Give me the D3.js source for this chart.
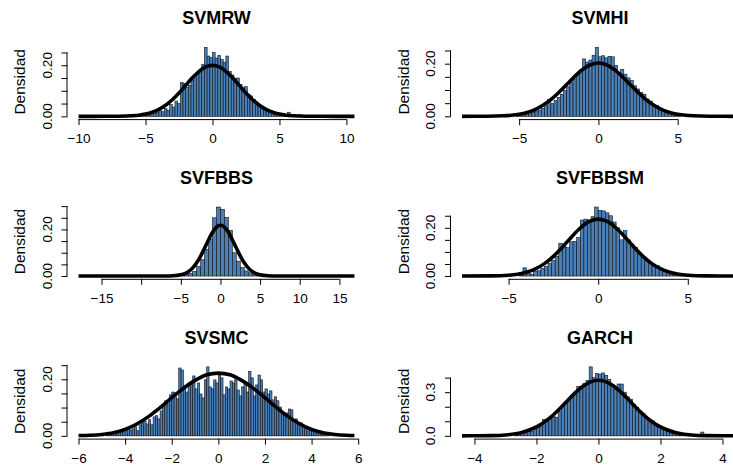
<!DOCTYPE html>
<html>
<head>
<meta charset="utf-8">
<script src="https://cdn.jsdelivr.net/npm/d3@7"></script>
<style>
  body { margin: 0; background: #fff; }
  svg { display: block; }
  text { font-family: "Liberation Sans", Arial, Helvetica, sans-serif; fill: #000; }
</style>
</head>
<body>
<svg id="chart" width="733" height="468"></svg>
<script>
// ---- data -------------------------------------------------------------
const titles = ["SVMRW", "SVMHI", "SVFBBS", "SVFBBSM", "SVSMC", "GARCH"];
const yLabel = "Densidad";

// observed range of each series (span of the density line)
const xRanges = [[-10, 10.6], [-8.6, 8.8], [-17.9, 16.9], [-7.6, 7.8], [-6, 5.84], [-4.4, 4.5]];

// histogram bins: left edge of first bin and bin width
const binStarts = [-7.0, -5.2, -5.0, -4.4, -5.0, -2.7];
const binWidths = [0.2, 0.2, 0.5, 0.2, 0.1, 0.1];

// bin densities
const densSVMRW = [0.000, 0.002, 0.000, 0.002, 0.008, 0.002, 0.002, 0.004, 0.004, 0.006,
  0.004, 0.008, 0.010, 0.012, 0.016, 0.022, 0.018, 0.030, 0.024, 0.046,
  0.036, 0.060, 0.050, 0.132, 0.128, 0.114, 0.122, 0.140, 0.150, 0.163,
  0.180, 0.204, 0.270, 0.236, 0.230, 0.250, 0.228, 0.238, 0.222, 0.212,
  0.236, 0.176, 0.162, 0.146, 0.150, 0.124, 0.112, 0.116, 0.086, 0.080,
  0.066, 0.056, 0.046, 0.040, 0.030, 0.026, 0.020, 0.014, 0.012, 0.008,
  0.006, 0.004, 0.002, 0.016, 0.002, 0.000, 0.000, 0.006];
const densSVMHI = [0.002, 0.004, 0.006, 0.008, 0.010, 0.014, 0.020, 0.024, 0.030, 0.040,
  0.064, 0.048, 0.060, 0.072, 0.084, 0.098, 0.112, 0.128, 0.142, 0.160,
  0.176, 0.218, 0.206, 0.214, 0.232, 0.262, 0.226, 0.230, 0.222, 0.228,
  0.226, 0.194, 0.166, 0.178, 0.160, 0.146, 0.136, 0.116, 0.104, 0.090,
  0.084, 0.066, 0.058, 0.044, 0.042, 0.030, 0.022, 0.016, 0.010, 0.006,
  0.004, 0.002];
const densSVFBBS = [0.002, 0.006, 0.012, 0.020, 0.042, 0.070, 0.115, 0.158, 0.250, 0.296,
  0.286, 0.252, 0.196, 0.100, 0.064, 0.036, 0.022, 0.014, 0.008, 0.004,
  0.002];
const densSVFBBSM = [0.004, 0.034, 0.010, 0.008, 0.020, 0.022, 0.032, 0.040, 0.052, 0.064,
  0.082, 0.136, 0.124, 0.118, 0.142, 0.144, 0.160, 0.232, 0.236, 0.232,
  0.246, 0.286, 0.272, 0.270, 0.262, 0.250, 0.224, 0.200, 0.150, 0.188,
  0.150, 0.132, 0.118, 0.092, 0.082, 0.066, 0.054, 0.040, 0.044, 0.026,
  0.022, 0.014, 0.010, 0.006, 0.004, 0.002, 0.002, 0.004];
const densSVSMC = [0.004, 0.000, 0.004, 0.007, 0.004, 0.011, 0.007, 0.011, 0.014, 0.025,
  0.018, 0.028, 0.021, 0.025, 0.032, 0.018, 0.039, 0.046, 0.053, 0.042,
  0.057, 0.039, 0.067, 0.071, 0.060, 0.088, 0.106, 0.124, 0.113, 0.145,
  0.155, 0.152, 0.131, 0.240, 0.233, 0.177, 0.155, 0.180, 0.191, 0.212,
  0.166, 0.187, 0.148, 0.134, 0.198, 0.244, 0.173, 0.166, 0.198, 0.187,
  0.215, 0.205, 0.145, 0.173, 0.166, 0.194, 0.187, 0.198, 0.162, 0.141,
  0.173, 0.184, 0.155, 0.228, 0.205, 0.141, 0.180, 0.215, 0.198, 0.155,
  0.166, 0.148, 0.159, 0.127, 0.138, 0.124, 0.102, 0.085, 0.074, 0.081,
  0.095, 0.092, 0.053, 0.060, 0.039, 0.046, 0.032, 0.028, 0.025, 0.018,
  0.021, 0.014, 0.011, 0.014, 0.007, 0.007, 0.004, 0.004, 0.000, 0.004];
const densGARCH = [0.006, 0.010, 0.016, 0.028, 0.040, 0.030, 0.044, 0.056, 0.068, 0.112,
  0.104, 0.120, 0.136, 0.128, 0.168, 0.200, 0.232, 0.248, 0.276, 0.300,
  0.340, 0.328, 0.360, 0.380, 0.474, 0.400, 0.428, 0.424, 0.432, 0.416,
  0.388, 0.352, 0.320, 0.356, 0.356, 0.300, 0.268, 0.252, 0.216, 0.196,
  0.164, 0.156, 0.120, 0.096, 0.104, 0.076, 0.056, 0.048, 0.036, 0.030,
  0.020, 0.014, 0.010, 0.006, 0.004, 0.002, 0.002, 0.000, 0.002, 0.000,
  0.026, 0.004, 0.000, 0.010, 0.002];

// fitted density line, [x, density] points
const curveSVMRW = [[-10, 0], [-8, 0.0001], [-7, 0.0004], [-6, 0.0022], [-5.5, 0.0045], [-5, 0.0088],
  [-4.5, 0.0159], [-4, 0.0270], [-3.5, 0.0432], [-3, 0.0648], [-2.5, 0.0913], [-2, 0.1210],
  [-1.5, 0.1506], [-1, 0.1760], [-0.5, 0.1934], [0, 0.1995], [0.5, 0.1934], [1, 0.1760],
  [1.5, 0.1506], [2, 0.1210], [2.5, 0.0913], [3, 0.0648], [3.5, 0.0432], [4, 0.0270],
  [4.5, 0.0159], [5, 0.0088], [5.5, 0.0045], [6, 0.0022], [7, 0.0004], [8, 0.0001], [10.6, 0]];
const curveSVMHI = [[-8.6, 0], [-7, 0.0004], [-6, 0.0020], [-5.5, 0.0041], [-5, 0.0081],
  [-4.5, 0.0149], [-4, 0.0258], [-3.5, 0.0418], [-3, 0.0635], [-2.5, 0.0905], [-2, 0.1209],
  [-1.5, 0.1515], [-1, 0.1780], [-0.5, 0.1961], [0, 0.2025], [0.5, 0.1961], [1, 0.1780],
  [1.5, 0.1515], [2, 0.1209], [2.5, 0.0905], [3, 0.0635], [3.5, 0.0418], [4, 0.0258],
  [4.5, 0.0149], [5, 0.0081], [5.5, 0.0041], [6, 0.0020], [7, 0.0004], [8.8, 0]];
const curveSVFBBS = [[-17.9, 0], [-8, 0], [-7, 0.0001], [-6, 0.0010], [-5, 0.0052], [-4.5, 0.0106],
  [-4, 0.0200], [-3.5, 0.0350], [-3, 0.0569], [-2.5, 0.0858], [-2, 0.1200], [-1.5, 0.1558],
  [-1, 0.1878], [-0.5, 0.2100], [0, 0.2180], [0.5, 0.2100], [1, 0.1878], [1.5, 0.1558],
  [2, 0.1200], [2.5, 0.0858], [3, 0.0569], [3.5, 0.0350], [4, 0.0200], [4.5, 0.0106],
  [5, 0.0052], [6, 0.0010], [7, 0.0001], [8, 0], [16.9, 0]];
const curveSVFBBSM = [[-7.6, 0], [-6, 0.0005], [-5, 0.0034], [-4.5, 0.0076], [-4, 0.0157],
  [-3.5, 0.0296], [-3, 0.0514], [-2.5, 0.0818], [-2, 0.1198], [-1.5, 0.1612], [-1, 0.1992],
  [-0.5, 0.2262], [0, 0.2360], [0.5, 0.2262], [1, 0.1992], [1.5, 0.1612], [2, 0.1198],
  [2.5, 0.0818], [3, 0.0514], [3.5, 0.0296], [4, 0.0157], [4.5, 0.0076], [5, 0.0034],
  [6, 0.0005], [7.8, 0]];
const curveSVSMC = [[-6, 0.001], [-5.5, 0.002], [-5, 0.005], [-4.5, 0.011], [-4, 0.023],
  [-3.5, 0.042], [-3, 0.068], [-2.5, 0.100], [-2, 0.135], [-1.5, 0.168], [-1, 0.196],
  [-0.5, 0.216], [0, 0.222], [0.5, 0.216], [1, 0.196], [1.5, 0.168], [2, 0.135],
  [2.5, 0.100], [3, 0.068], [3.5, 0.042], [4, 0.023], [4.5, 0.011], [5, 0.005],
  [5.5, 0.002], [5.84, 0.001]];
const curveGARCH = [[-4.4, 0.0001], [-4, 0.0003], [-3.5, 0.0014], [-3, 0.0062], [-2.5, 0.0217],
  [-2, 0.0610], [-1.75, 0.0938], [-1.5, 0.1361], [-1.25, 0.1866], [-1, 0.2415],
  [-0.75, 0.2951], [-0.5, 0.3406], [-0.25, 0.3712], [0, 0.3820], [0.25, 0.3712],
  [0.5, 0.3406], [0.75, 0.2951], [1, 0.2415], [1.25, 0.1866], [1.5, 0.1361],
  [1.75, 0.0938], [2, 0.0610], [2.5, 0.0217], [3, 0.0062], [3.5, 0.0014], [4, 0.0003],
  [4.5, 0.0001]];

// axis ticks and the tick labels that are printed
const xTicks = [[-10, -5, 0, 5, 10], [-5, 0, 5], [-15, -10, -5, 0, 5, 10, 15], [-5, 0, 5],
  [-6, -4, -2, 0, 2, 4, 6], [-4, -2, 0, 2, 4]];
const xTickLabels = [[-10, -5, 0, 5, 10], [-5, 0, 5], [-15, -5, 0, 5, 10, 15], [-5, 0, 5],
  [-6, -4, -2, 0, 2, 4, 6], [-4, -2, 0, 2, 4]];
const yTicks = [[0, 0.05, 0.10, 0.15, 0.20, 0.25], [0, 0.05, 0.10, 0.15, 0.20, 0.25],
  [0, 0.05, 0.10, 0.15, 0.20, 0.25, 0.30], [0, 0.05, 0.10, 0.15, 0.20, 0.25],
  [0, 0.05, 0.10, 0.15, 0.20, 0.25], [0, 0.1, 0.2, 0.3, 0.4]];
const yTickLabels = [[0, 0.20], [0, 0.20], [0, 0.20], [0, 0.20], [0, 0.20], [0, 0.3]];
const yLabelDigits = [2, 2, 2, 2, 2, 1];

const densities = [densSVMRW, densSVMHI, densSVFBBS, densSVFBBSM, densSVSMC, densGARCH];
const curves = [curveSVMRW, curveSVMHI, curveSVFBBS, curveSVFBBSM, curveSVSMC, curveGARCH];

// ---- layout (3 x 2 grid of panels) ------------------------------------
const colSpan = [[67.5, 365.5], [451, 749]];
const rowBottom = [119.1, 278.8, 438.6];
const plotH = 74.5;
const tickLen = 6;

const svg = d3.select("#chart");
svg.append("rect").attr("width", 733).attr("height", 468).attr("fill", "#fff");

const minus = s => s.replace("-", "\u2212");

titles.forEach((title, i) => {
  const col = i % 2, row = Math.floor(i / 2);
  const [x0, x1] = xRanges[i];
  const pad = 0.04 * (x1 - x0);
  const x = d3.scaleLinear().domain([x0 - pad, x1 + pad]).range(colSpan[col]);
  const dens = densities[i];
  const M = d3.max(dens);
  const bottom = rowBottom[row];
  const y = d3.scaleLinear().domain([-0.04 * M, 1.04 * M]).range([bottom, bottom - plotH]);
  const w = binWidths[i];
  const g = svg.append("g");

  // histogram bars
  g.append("g").selectAll("rect")
    .data(dens)
    .join("rect")
    .attr("x", (d, k) => x(binStarts[i] + k * w))
    .attr("width", x(w) - x(0))
    .attr("y", d => y(d))
    .attr("height", d => y(0) - y(d))
    .attr("fill", "#4a7fb8")
    .attr("stroke", "#111")
    .attr("stroke-width", 0.6);

  // fitted density line
  g.append("path")
    .datum(curves[i])
    .attr("fill", "none")
    .attr("stroke", "#000")
    .attr("stroke-width", 3.6)
    .attr("stroke-linejoin", "round")
    .attr("d", d3.line().x(d => x(d[0])).y(d => y(d[1])).curve(d3.curveMonotoneX));

  // x axis
  const xt = xTicks[i];
  const gx = g.append("g")
    .attr("transform", `translate(0,${bottom})`)
    .call(d3.axisBottom(x).tickValues(xt).tickSize(tickLen).tickSizeOuter(0).tickPadding(8)
      .tickFormat(d => xTickLabels[i].includes(d) ? minus(String(d)) : ""));
  gx.select(".domain").attr("d", `M${x(xt[0])},0.5H${x(xt[xt.length - 1])}`);
  gx.attr("font-family", null).attr("font-size", null);
  gx.selectAll(".tick text").attr("font-size", 13.5).attr("dy", "0.75em");
  gx.selectAll("line, path").attr("stroke", "#000");

  // y axis
  const yt = yTicks[i];
  const left = colSpan[col][0];
  const gy = g.append("g")
    .attr("transform", `translate(${left},0)`)
    .call(d3.axisLeft(y).tickValues(yt).tickSize(tickLen).tickSizeOuter(0).tickFormat(""));
  gy.select(".domain").attr("d", `M-0.5,${y(yt[0])}V${y(yt[yt.length - 1])}`);
  gy.selectAll("line, path").attr("stroke", "#000");

  const fmt = d3.format(`.${yLabelDigits[i]}f`);
  g.append("g").selectAll("text")
    .data(yTickLabels[i])
    .join("text")
    .attr("transform", d => `translate(${left - 16},${y(d)}) rotate(-90)`)
    .attr("text-anchor", "middle")
    .attr("font-size", 13.5)
    .text(d => fmt(d));

  // axis title
  g.append("text")
    .attr("transform", `translate(${left - 42.5},${bottom - plotH / 2}) rotate(-90)`)
    .attr("text-anchor", "middle")
    .attr("font-size", 15.5)
    .text(yLabel);

  // panel title
  g.append("text")
    .attr("x", (colSpan[col][0] + colSpan[col][1]) / 2)
    .attr("y", bottom - 95)
    .attr("text-anchor", "middle")
    .attr("font-size", 18)
    .attr("font-weight", "bold")
    .text(title);
});
</script>
</body>
</html>
